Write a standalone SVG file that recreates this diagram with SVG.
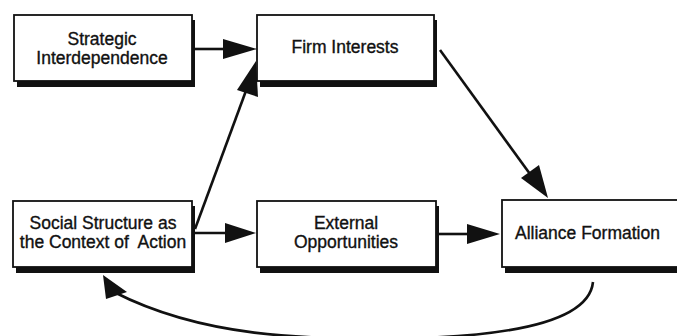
<svg xmlns="http://www.w3.org/2000/svg" width="677" height="336" viewBox="0 0 677 336">
<style>
.box{fill:#fff;stroke:#111;stroke-width:1.8}
.sh{fill:#111}
.t{font-family:"Liberation Sans",Arial,sans-serif;font-size:17.5px;fill:#111;stroke:#111;stroke-width:0.35;text-anchor:middle}
.ln{stroke:#111;stroke-width:2.6;fill:none}
.ah{fill:#111}
</style>
<rect width="677" height="336" fill="#fff"/>
<g id="strategic">
<rect class="sh" x="17" y="20" width="178" height="67"/>
<rect class="box" x="14" y="15" width="178" height="66"/>
<text class="t" x="102" y="45">Strategic</text>
<text class="t" x="102" y="64">Interdependence</text>
</g>
<g id="firm">
<rect class="sh" x="260" y="20" width="177" height="67"/>
<rect class="box" x="257" y="15" width="177" height="66"/>
<text class="t" x="345" y="53">Firm Interests</text>
</g>
<g id="social">
<rect class="sh" x="16" y="206" width="179" height="67"/>
<rect class="box" x="13" y="201" width="179" height="66"/>
<text class="t" x="103" y="229">Social Structure as</text>
<text class="t" x="103" y="248" xml:space="preserve">the Context of  Action</text>
</g>
<g id="external">
<rect class="sh" x="260" y="206" width="179" height="67"/>
<rect class="box" x="257" y="201" width="179" height="66"/>
<text class="t" x="346" y="229">External</text>
<text class="t" x="346" y="248">Opportunities</text>
</g>
<g id="alliance">
<rect class="sh" x="505" y="205" width="190" height="68"/>
<rect class="box" x="502" y="200" width="190" height="67"/>
<text class="t" x="515" y="239" style="text-anchor:start">Alliance Formation</text>
</g>
<g id="connectors">
<line class="ln" x1="195" y1="49" x2="226" y2="49"/>
<polygon class="ah" points="257,49 223,39 223,59"/>
<line class="ln" x1="195" y1="233" x2="228" y2="233"/>
<polygon class="ah" points="256,233 225,223 225,243"/>
<line class="ln" x1="438" y1="234" x2="470" y2="234"/>
<polygon class="ah" points="500,234 467,224 467,244"/>
<line class="ln" x1="440" y1="50" x2="530" y2="174"/>
<polygon class="ah" points="548,198 521,178 539,165"/>
<line class="ln" x1="195" y1="229" x2="247" y2="88"/>
<polygon class="ah" points="256,61 237,90 258,97"/>
<path class="ln" d="M593 282 C590 312 545 334 420 338 C300 341 200 336 114 292"/>
<polygon class="ah" points="103,275 106,299 127,292"/>
</g>
</svg>
